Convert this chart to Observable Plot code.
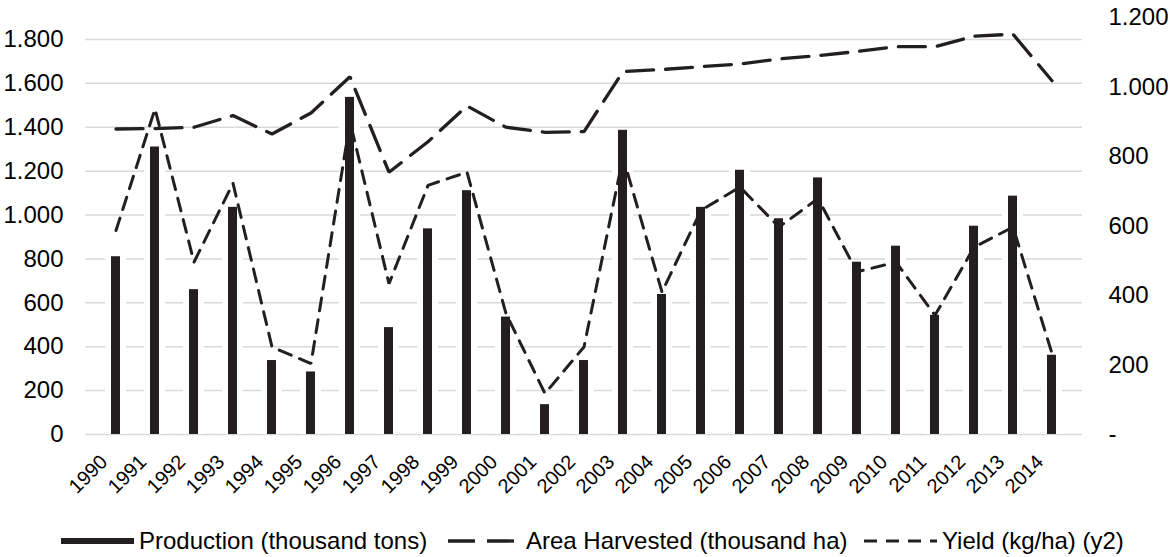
<!DOCTYPE html>
<html>
<head>
<meta charset="utf-8">
<script src="https://cdn.jsdelivr.net/npm/d3@7"></script>
<script src="https://cdn.jsdelivr.net/npm/@observablehq/plot@0.6"></script>
<style>
  html, body { margin: 0; padding: 0; background: #fff; }
  body { width: 1170px; height: 557px; overflow: hidden; font-family: "Liberation Sans", Arial, sans-serif; }
  #legend { display: flex; align-items: center; height: 37px; padding-top: 4px; box-sizing: border-box; font-size: 24px; color: #000; position: relative; }
  .item { position: absolute; display: flex; align-items: center; white-space: nowrap; }
  .item svg { margin-right: 5px; }
</style>
</head>
<body>
<div id="chart"></div>
<div id="legend"></div>
<script>
const years = ["1990","1991","1992","1993","1994","1995","1996","1997","1998","1999","2000","2001","2002","2003","2004","2005","2006","2007","2008","2009","2010","2011","2012","2013","2014"];
const production = [810,1310,660,1035,337,285,1536,487,937,1111,535,136,337,1386,638,1035,1204,983,1169,785,858,543,949,1086,361];
const areaHarvested = [1392,1394,1400,1453,1369,1465,1630,1195,1334,1497,1400,1377,1380,1654,1663,1676,1688,1711,1726,1745,1767,1767,1815,1824,1612];
const yieldKg = [587,937,496,723,252,204,900,434,717,755,348,118,252,798,410,645,712,597,679,468,496,343,539,597,233];
const leftTicks = [0,200,400,600,800,1000,1200,1400,1600,1800];
const rightTicks = [0,200,400,600,800,1000,1200];
const seriesNames = ["Production (thousand tons)", "Area Harvested (thousand ha)", "Yield (kg/ha) (y2)"];

const leftMax = 1900, rightMax = 1200;
const k = leftMax / rightMax;
const ink = "#231f20";
const fmt = d3.formatLocale({decimal: ",", thousands: ".", grouping: [3], currency: ["", ""]}).format(",");

const data = years.map((y, i) => ({year: y, production: production[i], area: areaHarvested[i], yld: yieldKg[i] * k}));

const chart = Plot.plot({
  width: 1170,
  height: 520,
  marginLeft: 85,
  marginRight: 88,
  marginTop: 17,
  marginBottom: 86,
  style: {fontFamily: "'Liberation Sans', Arial, sans-serif", fontSize: "24px", color: "#000", background: "#fff"},
  x: {type: "band", domain: years, padding: 0},
  y: {domain: [0, leftMax]},
  marks: [
    Plot.ruleY(leftTicks, {y: d => d, stroke: "#d9d9d9", strokeWidth: 1.5}),
    Plot.barY(data, {x: "year", y: "production", fill: "#fff", insetLeft: 9, insetRight: 9}),
    Plot.barY(data, {x: "year", y: "production", fill: ink, insetLeft: 15, insetRight: 15}),
    Plot.line(data, {x: "year", y: "area", stroke: ink, strokeWidth: 3.3, strokeDasharray: "27,12", strokeLinejoin: "miter"}),
    Plot.line(data, {x: "year", y: "yld", stroke: ink, strokeWidth: 3, strokeDasharray: "13,9", strokeLinejoin: "miter"}),
    Plot.axisY(leftTicks, {anchor: "left", tickSize: 0, tickPadding: 22, tickFormat: d => fmt(d), label: null}),
    Plot.axisY(rightTicks.map(v => v * k), {anchor: "right", tickSize: 0, tickPadding: 26, tickFormat: d => { const v = Math.round(d / k); return v === 0 ? "-" : fmt(v); }, label: null}),
    Plot.axisX({tickRotate: -45, tickSize: 0, tickPadding: 24, dx: -12, fontSize: 20, label: null})
  ]
});
document.getElementById("chart").appendChild(chart);

// Legend
const legend = document.getElementById("legend");
const items = [
  {name: seriesNames[0], left: 61, dash: null, w: 6},
  {name: seriesNames[1], left: 448, dash: "27,12", w: 3.3},
  {name: seriesNames[2], left: 864, dash: "13,9", w: 3}
];
for (const it of items) {
  const div = document.createElement("div");
  div.className = "item";
  div.style.left = it.left + "px";
  const ns = "http://www.w3.org/2000/svg";
  const s = document.createElementNS(ns, "svg");
  s.setAttribute("width", 73); s.setAttribute("height", 12);
  const l = document.createElementNS(ns, "line");
  l.setAttribute("x1", 0); l.setAttribute("x2", 73); l.setAttribute("y1", 6); l.setAttribute("y2", 6);
  l.setAttribute("stroke", ink); l.setAttribute("stroke-width", it.w);
  if (it.dash) l.setAttribute("stroke-dasharray", it.dash);
  s.appendChild(l);
  div.appendChild(s);
  const t = document.createElement("span");
  t.textContent = it.name;
  div.appendChild(t);
  legend.appendChild(div);
}
</script>
</body>
</html>
